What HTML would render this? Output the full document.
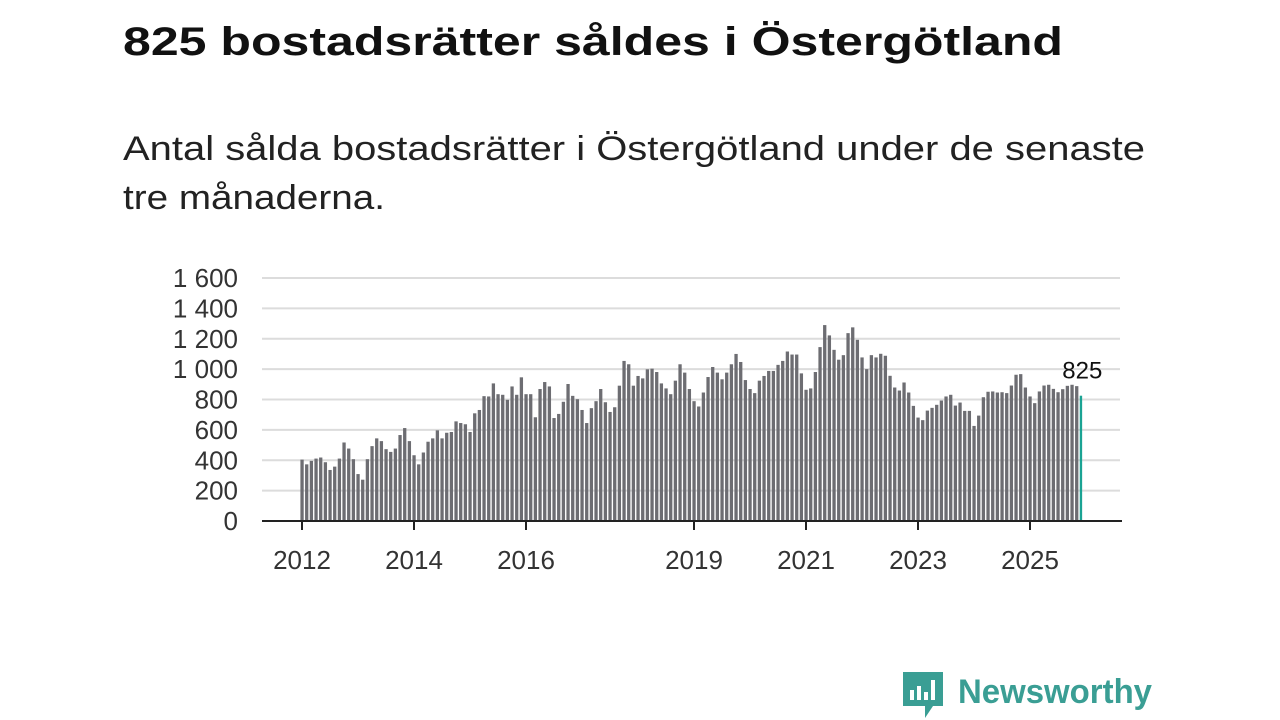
<!DOCTYPE html>
<html><head><meta charset="utf-8"><style>
html,body{margin:0;padding:0;background:#fff;}
svg{display:block;font-family:"Liberation Sans","DejaVu Sans",sans-serif;}
</style></head><body>
<svg id="chart" width="1280" height="720" viewBox="0 0 1280 720">
<text x="123" y="55" font-size="40" font-weight="bold" fill="#111" textLength="940" lengthAdjust="spacingAndGlyphs">825 bostadsrätter såldes i Östergötland</text>
<text x="123" y="160" font-size="34" fill="#222" textLength="1022" lengthAdjust="spacingAndGlyphs">Antal sålda bostadsrätter i Östergötland under de senaste</text>
<text x="123" y="209" font-size="34" fill="#222" textLength="262" lengthAdjust="spacingAndGlyphs">tre månaderna.</text>
<g id="grid"></g>
<g id="bars"></g>
<g id="axes"></g>
<g>
<path d="M903 672 h40 v34 h-10 l-8 12 v-12 h-22 z" fill="#3a9e94"/>
<rect x="910" y="690" width="4" height="10" fill="#fff"/>
<rect x="917" y="686" width="4" height="14" fill="#fff"/>
<rect x="924" y="692" width="4" height="8" fill="#fff"/>
<rect x="931" y="680" width="4" height="20" fill="#fff"/>
<text x="958" y="703" font-size="34" font-weight="bold" fill="#3a9e94" textLength="194" lengthAdjust="spacingAndGlyphs">Newsworthy</text>
</g>
</svg>
<script>
const values = [404,373,396,411,418,387,336,358,411,517,477,407,
309,272,407,493,544,526,473,455,477,566,612,526,
433,373,451,522,544,597,544,581,586,656,645,637,
586,709,731,822,820,906,835,831,798,886,831,946,
835,835,683,869,915,886,678,705,785,902,824,802,
731,645,743,789,869,782,718,749,891,1054,1032,891,
955,939,999,1003,981,906,873,835,924,1032,977,869,
789,754,846,948,1014,977,933,977,1032,1100,1047,928,
869,842,924,955,988,988,1028,1054,1116,1096,1096,972,
864,873,981,1145,1290,1222,1127,1062,1092,1237,1275,1193,
1077,1000,1092,1077,1101,1088,956,879,859,912,846,758,
681,664,727,745,765,793,820,831,760,780,725,725,
626,694,815,851,853,846,848,842,892,963,967,879,
820,776,853,892,897,870,848,868,890,897,888,825];
const yTicks = [0,200,400,600,800,1000,1200,1400,1600];
const yTickLabels = ["0","200","400","600","800","1 000","1 200","1 400","1 600"];
const xTickYears = [2012,2014,2016,2019,2021,2023,2025];
const startYear = 2012;

const NS="http://www.w3.org/2000/svg";
const y0=521, pxPer=(521-278)/1600;
const yS=v=>y0-v*pxPer;
const xS=i=>302+i*(1030-302)/156;
function mk(tag,attrs,parent){const e=document.createElementNS(NS,tag);for(const k in attrs)e.setAttribute(k,attrs[k]);parent.appendChild(e);return e;}
const grid=document.getElementById('grid'),bars=document.getElementById('bars'),axes=document.getElementById('axes');
yTicks.forEach((t,k)=>{
  if(t>0){const l=mk('line',{x1:262,x2:1120,y1:yS(t),y2:yS(t),stroke:'#dcdcdc','stroke-width':2},grid);
  
  }
  const tx=mk('text',{x:238,y:yS(t)+9,'font-size':26,'text-anchor':'end',fill:'#333'},axes);
  tx.textContent=yTickLabels[k];
  
  
});
values.forEach((v,i)=>{
  const last=i===values.length-1;
  const r=mk('rect',{x:xS(i)-1.6,y:yS(v),width:last?2.4:3.3,height:y0-yS(v),fill:last?'#1aa393':'#6d6d72'},bars);
  
  
});
const li=values.length-1;
const lab=mk('text',{x:xS(li)+1,y:yS(values[li])-17,'font-size':24,'text-anchor':'middle',fill:'#111'},axes);
lab.textContent=String(values[li]);


const ax=mk('line',{x1:262,x2:1122,y1:y0,y2:y0,stroke:'#222','stroke-width':2},axes);


xTickYears.forEach(yr=>{
  const x=xS((yr-startYear)*12);
  const tk=mk('line',{x1:x,x2:x,y1:y0,y2:y0+9,stroke:'#222','stroke-width':2},axes);
  
  
  const t=mk('text',{x:x,y:569,'font-size':26,'text-anchor':'middle',fill:'#333'},axes);
  t.textContent=String(yr);
  
  
});
</script>
</body></html>
